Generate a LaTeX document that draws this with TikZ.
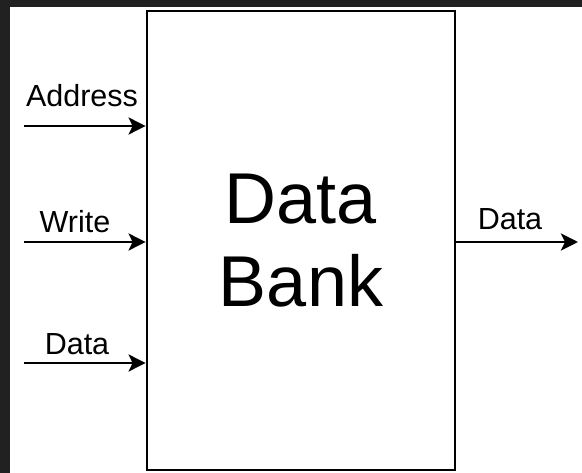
\documentclass[tikz,border=0pt]{standalone}
\usepackage{fontspec}
\setmainfont{Liberation Sans}
\usetikzlibrary{arrows.meta,positioning}
\definecolor{ink}{RGB}{0,0,0}
\definecolor{edge}{RGB}{33,33,33}
\tikzset{
  bank/.style={draw=ink,line width=2.8pt,minimum width=308pt,minimum height=459pt,
    inner sep=0pt,align=center,font=\fontsize{72}{83}\selectfont},
  sig/.style={-{Stealth[length=17pt,width=17pt,inset=4pt]},line width=2.8pt,ink},
  lbl/.style={font=\fontsize{30.5}{36}\selectfont,inner sep=0pt,anchor=base},
}

\begin{document}
\begin{tikzpicture}[x=1pt,y=-1pt]
  % dark strip along the top and left
  \fill[edge] (0,0) rectangle (582,473);
  \fill[white] (10,7) rectangle (582,473);

  \node[bank] (bank) at (301,240.5) {Data\\Bank};

  % free ends of the signal lines
  \coordinate (addr) at (24,126);
  \coordinate (wr) at (24,242);
  \coordinate (din) at (24,363);
  \coordinate (dout) at (578,242);

  \draw[sig] (addr) -- (addr -| bank.west);
  \draw[sig] (wr) -- (wr -| bank.west);
  \draw[sig] (din) -- (din -| bank.west);
  \draw[sig] (dout -| bank.east) -- (dout);

  \node[lbl] (addr-l) at (82,107) {Address};
  \node[lbl] (wr-l) at (75,233) {Write};
  \node[lbl] (din-l) at (77,355) {Data};
  \node[lbl] (dout-l) at (510,230) {Data};
\end{tikzpicture}
\end{document}
